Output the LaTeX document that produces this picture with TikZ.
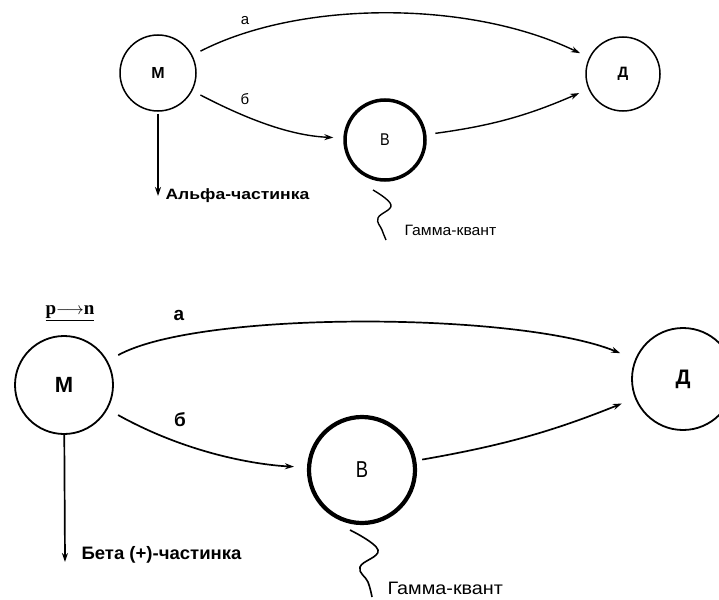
\documentclass[tikz,border=0pt]{standalone}
\usepackage{fontspec}
\setmainfont{Liberation Sans}
\newfontfamily\serifpn{Liberation Serif}
\usetikzlibrary{arrows.meta}
\begin{document}
\begin{tikzpicture}[x=1pt,y=-1pt,
  st/.style={circle,draw,line width=1.5pt,inner sep=0pt},
  stt/.style={st,line width=1.8pt},
  arr/.style={-{Stealth[length=9pt,width=6pt]},line width=1.4pt},
  small/.style={font=\fontsize{15}{17}\selectfont},
  big/.style={font=\fontsize{18}{20}\selectfont},
  wave/.style={line width=1.4pt}
]
\useasboundingbox (0,0) rectangle (719,599);

% ---------- top diagram ----------
\node[st,minimum size=76pt,font=\fontsize{16}{18}\selectfont\bfseries] (M1) at (158,73) {М};
\node[st,minimum size=74pt,font=\fontsize{15}{17}\selectfont\bfseries] (D1) at (623,74) {Д};
\node[st,line width=3.5pt,minimum size=80pt,font=\fontsize{17}{19}\selectfont] (B1) at (385,140) {\scalebox{0.85}[1]{В}};

\draw[arr,shorten <=9pt,shorten >=10pt] (M1) .. controls (300,0) and (470,0) .. (D1);
\draw[arr,shorten <=9pt,shorten >=10pt] (M1) .. controls (262,127) and (300,136) .. (B1);
\draw[arr,shorten <=9pt,shorten >=10pt] (B1) to[bend right=8] (D1);
\node[small] (la1) at (245,21) {а};
\node[small] (lb1) at (245,99) {б};

\coordinate (alphaend) at (158,196);
\draw[arr,shorten <=2pt] (M1) -- (alphaend);
\node[small,anchor=west,font=\fontsize{15}{17}\selectfont\bfseries] (alpha) at (162,196) {\scalebox{1.17}[1]{Альфа-частинка}};

\draw[wave] plot[smooth,tension=0.7] coordinates {(373,190) (391,205) (378,218) (382,230) (386,240)};
\node[small,anchor=west] (gamma1) at (401,230) {\scalebox{1.05}[1]{Гамма-квант}};

% ---------- bottom diagram ----------
\node[stt,minimum size=98pt,font=\fontsize{22}{24}\selectfont\bfseries] (M2) at (64,385) {М};
\node[stt,minimum size=102pt,font=\fontsize{21}{23}\selectfont\bfseries] (D2) at (683,379) {Д};
\node[st,line width=4.2pt,minimum size=106pt,font=\fontsize{23}{25}\selectfont] (B2) at (362,470) {\scalebox{0.8}[1]{В}};

\draw[arr,line width=1.7pt,shorten <=12pt,shorten >=16pt] (M2) .. controls (200,310) and (520,312) .. (D2);
\draw[arr,line width=1.7pt,shorten <=12pt,shorten >=13pt] (M2) .. controls (190,455) and (260,465) .. (B2);
\draw[arr,line width=1.7pt,shorten <=6pt,shorten >=14pt] (B2) to[bend right=6] (D2);
\node[big,font=\fontsize{19}{21}\selectfont\bfseries] (la2) at (179,315) {а};
\node[big,font=\fontsize{19}{21}\selectfont\bfseries] (lb2) at (180,420) {б};
\node[font=\fontsize{19}{21}\selectfont\serifpn\bfseries] (pn) at (70,313) {\underline{p$\longrightarrow$n}};

\coordinate (betaend) at (65,562);
\draw[arr,line width=1.7pt] (M2) -- (betaend);
\node[big,anchor=west,font=\fontsize{18}{20}\selectfont\bfseries] (beta) at (78,555) {\scalebox{1.03}[1]{Бета (+)-частинка}};

\draw[wave,line width=1.6pt] plot[smooth,tension=0.7] coordinates {(350,530) (378,550) (360,567) (368,582) (372,597)};
\node[big,anchor=west] (gamma2) at (384,588) {\scalebox{1.1}[1]{Гамма-квант}};
\end{tikzpicture}
\end{document}
